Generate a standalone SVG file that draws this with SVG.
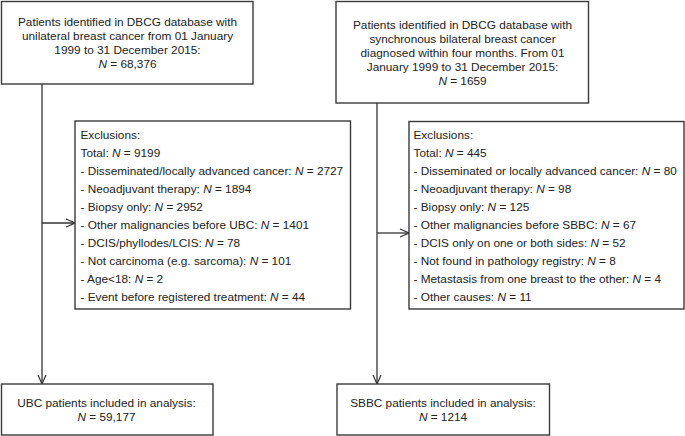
<svg xmlns="http://www.w3.org/2000/svg" width="685" height="436" viewBox="0 0 685 436">
<defs>
<marker id="arr" viewBox="0 0 10 10" refX="10" refY="5" markerWidth="10" markerHeight="10" markerUnits="userSpaceOnUse" orient="auto">
<path d="M1,1 L10,5 L1,9" fill="none" stroke="#333" stroke-width="1.2"/>
</marker>
<style>
.box{fill:#fff;stroke:#3a3a3a;stroke-width:1.4}
.t{font-family:"Liberation Sans",Arial,Helvetica,sans-serif;font-size:11.8px;fill:#222}
.c{text-anchor:middle}
.i{font-style:italic}
.ln{fill:none;stroke:#333;stroke-width:1.3}
</style>
</defs>
<rect width="685" height="436" fill="#fff"/>
<g id="connectors">
<line class="ln" x1="42" y1="84" x2="42" y2="384" marker-end="url(#arr)"/>
<line class="ln" x1="42" y1="223" x2="75" y2="223" marker-end="url(#arr)"/>
<line class="ln" x1="377" y1="103" x2="377" y2="384" marker-end="url(#arr)"/>
<line class="ln" x1="377" y1="233" x2="409" y2="233" marker-end="url(#arr)"/>
</g>
<g id="ubc-source">
<rect class="box" x="1.5" y="1.5" width="251.5" height="82.5"/>
<text class="t c" x="127.5" y="25.5">Patients identified in DBCG database with</text>
<text class="t c" x="127.5" y="39.5">unilateral breast cancer from 01 January</text>
<text class="t c" x="127.5" y="53.5">1999 to 31 December 2015:</text>
<text class="t c" x="127.5" y="67.5"><tspan class="i">N</tspan> = 68,376</text>
</g>
<g id="sbbc-source">
<rect class="box" x="336" y="1.5" width="252.5" height="101.5"/>
<text class="t c" x="462.5" y="29">Patients identified in DBCG database with</text>
<text class="t c" x="462.5" y="43">synchronous bilateral breast cancer</text>
<text class="t c" x="462.5" y="57">diagnosed within four months. From 01</text>
<text class="t c" x="462.5" y="71">January 1999 to 31 December 2015:</text>
<text class="t c" x="462.5" y="85"><tspan class="i">N</tspan> = 1659</text>
</g>
<g id="ubc-exclusions">
<rect class="box" x="75" y="121" width="275.5" height="188"/>
<text class="t" x="80.5" y="138.5">Exclusions:</text>
<text class="t" x="80.5" y="156.5">Total: <tspan class="i">N</tspan> = 9199</text>
<text class="t" x="80.5" y="174.5">- Disseminated/locally advanced cancer: <tspan class="i">N</tspan> = 2727</text>
<text class="t" x="80.5" y="192.5">- Neoadjuvant therapy: <tspan class="i">N</tspan> = 1894</text>
<text class="t" x="80.5" y="210.5">- Biopsy only: <tspan class="i">N</tspan> = 2952</text>
<text class="t" x="80.5" y="228.5">- Other malignancies before UBC: <tspan class="i">N</tspan> = 1401</text>
<text class="t" x="80.5" y="246.5">- DCIS/phyllodes/LCIS: <tspan class="i">N</tspan> = 78</text>
<text class="t" x="80.5" y="264.5">- Not carcinoma (e.g. sarcoma): <tspan class="i">N</tspan> = 101</text>
<text class="t" x="80.5" y="282.5">- Age&lt;18: <tspan class="i">N</tspan> = 2</text>
<text class="t" x="80.5" y="300.5">- Event before registered treatment: <tspan class="i">N</tspan> = 44</text>
</g>
<g id="sbbc-exclusions">
<rect class="box" x="409" y="121.5" width="275" height="187.5"/>
<text class="t" x="413.5" y="138.5">Exclusions:</text>
<text class="t" x="413.5" y="156.5">Total: <tspan class="i">N</tspan> = 445</text>
<text class="t" x="413.5" y="174.5">- Disseminated or locally advanced cancer: <tspan class="i">N</tspan> = 80</text>
<text class="t" x="413.5" y="192.5">- Neoadjuvant therapy: <tspan class="i">N</tspan> = 98</text>
<text class="t" x="413.5" y="210.5">- Biopsy only: <tspan class="i">N</tspan> = 125</text>
<text class="t" x="413.5" y="228.5">- Other malignancies before SBBC: <tspan class="i">N</tspan> = 67</text>
<text class="t" x="413.5" y="246.5">- DCIS only on one or both sides: <tspan class="i">N</tspan> = 52</text>
<text class="t" x="413.5" y="264.5">- Not found in pathology registry: <tspan class="i">N</tspan> = 8</text>
<text class="t" x="413.5" y="282.5">- Metastasis from one breast to the other: <tspan class="i">N</tspan> = 4</text>
<text class="t" x="413.5" y="300.5">- Other causes: <tspan class="i">N</tspan> = 11</text>
</g>
<g id="ubc-included">
<rect class="box" x="1.5" y="384" width="211.5" height="51"/>
<text class="t c" x="106.5" y="407">UBC patients included in analysis:</text>
<text class="t c" x="106.5" y="421"><tspan class="i">N</tspan> = 59,177</text>
</g>
<g id="sbbc-included">
<rect class="box" x="337" y="384" width="212.5" height="51"/>
<text class="t c" x="443" y="407">SBBC patients included in analysis:</text>
<text class="t c" x="443" y="421"><tspan class="i">N</tspan> = 1214</text>
</g>
</svg>
